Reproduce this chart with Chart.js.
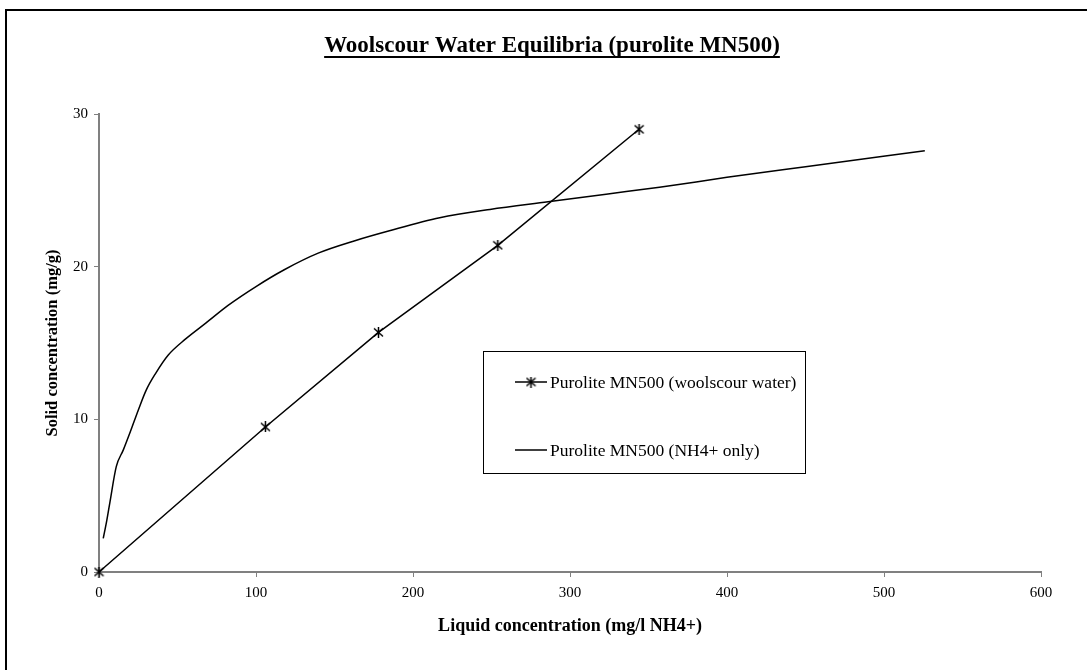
<!DOCTYPE html>
<html>
<head>
<meta charset="utf-8">
<script src="https://cdn.jsdelivr.net/npm/chart.js@4.4.0/dist/chart.umd.min.js"></script>
<style>
  html, body { margin: 0; padding: 0; background: #fff; }
  canvas { display: block; }
</style>
</head>
<body>
<canvas id="eqChart" width="1087" height="670"></canvas>
<script>
// data
const chartTitle = 'Woolscour Water Equilibria (purolite MN500)';
const xTitle = 'Liquid concentration (mg/l NH4+)';
const yTitle = 'Solid concentration (mg/g)';

const woolscourLabel = 'Purolite MN500 (woolscour water)';
const woolscourX = [0, 106, 178, 254, 344];
const woolscourY = [0, 9.5, 15.7, 21.4, 29.0];

const nh4Label = 'Purolite MN500 (NH4+ only)';
const nh4X = [2.7, 5, 7, 11, 15.5, 20, 25, 30, 36, 44, 55, 68, 82, 100, 118, 140, 163, 185, 217, 249, 286, 323, 357, 400, 450, 526];
const nh4Y = [2.2, 3.4, 4.6, 6.9, 8.0, 9.2, 10.6, 11.9, 13.0, 14.2, 15.25, 16.3, 17.45, 18.7, 19.8, 20.9, 21.7, 22.35, 23.2, 23.75, 24.25, 24.75, 25.2, 25.85, 26.55, 27.6];

const xTicks = [0, 100, 200, 300, 400, 500, 600];
const yTicks = [0, 10, 20, 30];

const serif = '"Liberation Serif", "Times New Roman", Times, serif';

// asterisk marker (x plus vertical bar)
const star = document.createElement('canvas');
star.width = 11;
star.height = 11;
(() => {
  const c = star.getContext('2d');
  c.strokeStyle = '#000';
  c.lineWidth = 1.5;
  c.beginPath();
  c.moveTo(1, 1.5); c.lineTo(10, 9.5);
  c.moveTo(10, 1.5); c.lineTo(1, 9.5);
  c.moveTo(5.5, 0); c.lineTo(5.5, 11);
  c.stroke();
})();

const decor = {
  id: 'decor',
  beforeDraw(chart) {
    const ctx = chart.ctx;
    ctx.save();
    ctx.fillStyle = '#fff';
    ctx.fillRect(0, 0, chart.width, chart.height);
    ctx.restore();
  },
  afterDraw(chart) {
    const ctx = chart.ctx;
    ctx.save();

    // outer frame, right and bottom edges run off the picture
    ctx.strokeStyle = '#000';
    ctx.lineWidth = 2;
    ctx.strokeRect(6, 10, 1200, 800);

    // underlined title
    ctx.fillStyle = '#000';
    ctx.font = 'bold 23px ' + serif;
    ctx.textAlign = 'center';
    ctx.textBaseline = 'middle';
    const tx = 552, ty = 46;
    ctx.fillText(chartTitle, tx, ty);
    const tw = ctx.measureText(chartTitle).width;
    ctx.fillRect(tx - tw / 2, ty + 10, tw, 2);

    // legend box
    ctx.strokeStyle = '#000';
    ctx.lineWidth = 1;
    ctx.strokeRect(483.5, 351.5, 322, 122);
    ctx.font = '17.5px ' + serif;
    ctx.textAlign = 'left';
    const rows = [382, 450];
    chart.data.datasets.forEach((ds, i) => {
      const y = rows[i];
      ctx.strokeStyle = ds.borderColor;
      ctx.lineWidth = ds.borderWidth;
      ctx.beginPath();
      ctx.moveTo(515, y);
      ctx.lineTo(547, y);
      ctx.stroke();
      if (ds.pointRadius > 0) ctx.drawImage(star, 531 - 5.5, y - 5.5);
      ctx.fillStyle = '#000';
      ctx.fillText(ds.label, 550, y + 1);
    });
    ctx.restore();
  }
};

new Chart(document.getElementById('eqChart'), {
  type: 'line',
  data: {
    datasets: [
      {
        label: woolscourLabel,
        data: woolscourX.map((x, i) => ({ x: x, y: woolscourY[i] })),
        borderColor: '#000',
        borderWidth: 1.5,
        pointStyle: star,
        pointRadius: 5,
        tension: 0,
        clip: false
      },
      {
        label: nh4Label,
        data: nh4X.map((x, i) => ({ x: x, y: nh4Y[i] })),
        borderColor: '#000',
        borderWidth: 1.5,
        pointRadius: 0,
        cubicInterpolationMode: 'monotone'
      }
    ]
  },
  options: {
    responsive: false,
    animation: false,
    layout: { padding: { top: 114, right: 46, bottom: 0, left: 0 } },
    plugins: {
      legend: { display: false },
      tooltip: { enabled: false },
      title: { display: false }
    },
    scales: {
      x: {
        type: 'linear',
        min: 0,
        max: 600,
        afterFit: (s) => { s.height = 98; },
        afterBuildTicks: (s) => { s.ticks = xTicks.map((v) => ({ value: v })); },
        ticks: { color: '#000', font: { family: serif, size: 15 }, padding: 7, maxRotation: 0 },
        grid: { drawOnChartArea: false, drawTicks: true, tickLength: 5, color: '#808080', lineWidth: 1 },
        border: { display: true, color: '#808080', width: 2 },
        title: { display: true, text: xTitle, color: '#000', font: { family: serif, size: 18, weight: 'bold' }, padding: { top: 0, bottom: 33 } }
      },
      y: {
        min: 0,
        max: 30,
        afterFit: (s) => { s.width = 99; },
        afterBuildTicks: (s) => { s.ticks = yTicks.map((v) => ({ value: v })); },
        ticks: { color: '#000', font: { family: serif, size: 15 }, padding: 6 },
        grid: { drawOnChartArea: false, drawTicks: true, tickLength: 5, color: '#808080', lineWidth: 1 },
        border: { display: true, color: '#808080', width: 2 },
        title: { display: true, text: yTitle, color: '#000', font: { family: serif, size: 16.5, weight: 'bold' }, padding: { top: 43, bottom: 0 } }
      }
    }
  },
  plugins: [decor]
});
</script>
</body>
</html>
